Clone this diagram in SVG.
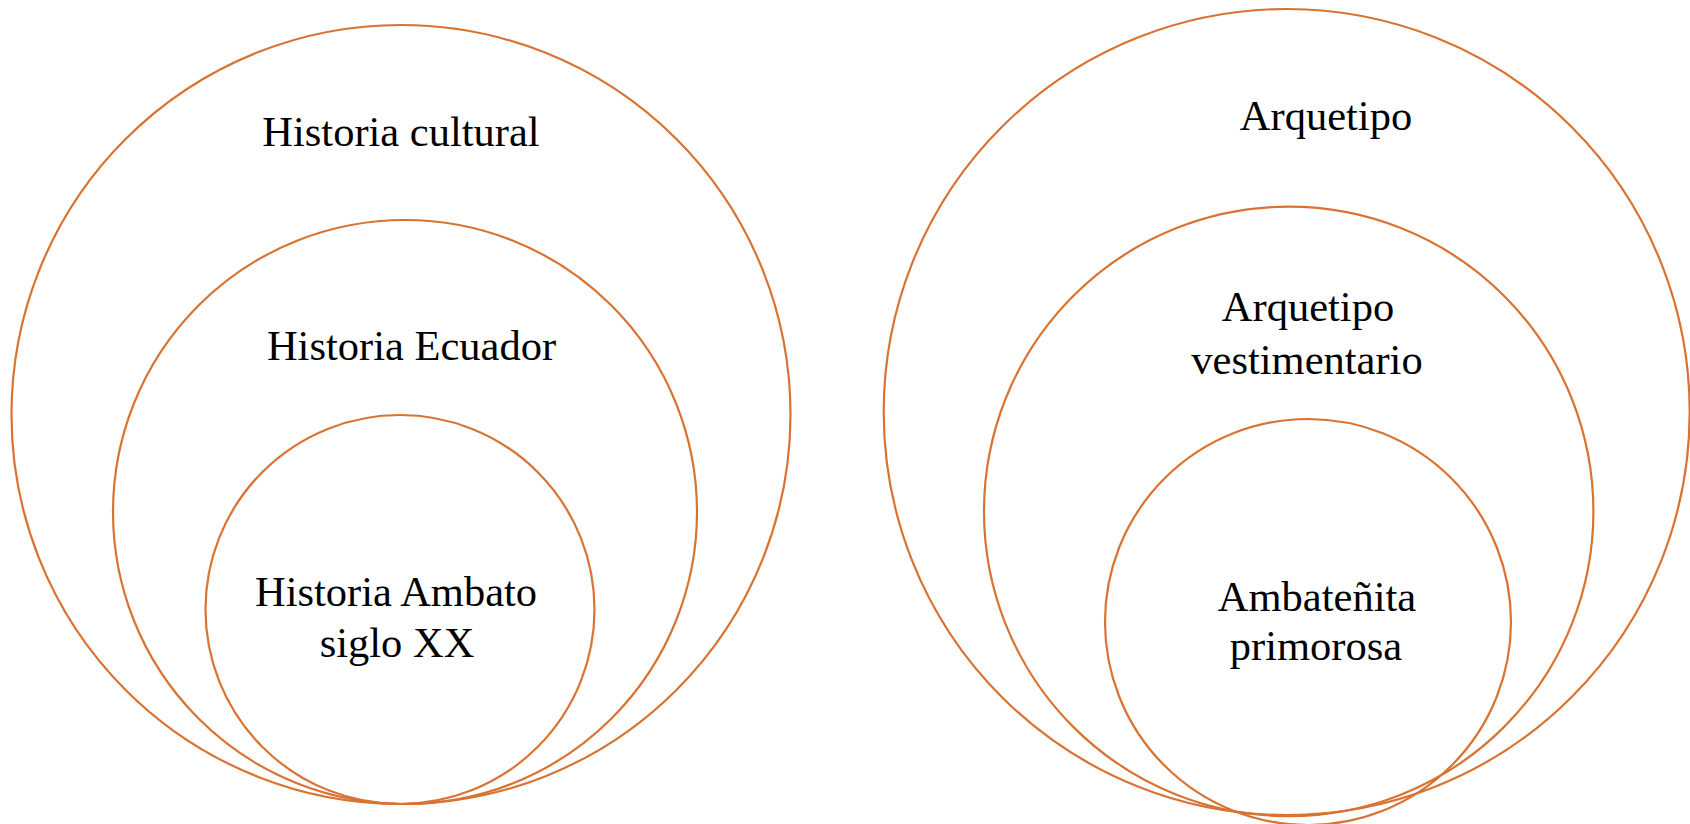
<svg xmlns="http://www.w3.org/2000/svg" width="1690" height="824" viewBox="0 0 1690 824">
<style>
.c{fill:none;stroke:#D97331;stroke-width:2.2}
.t{font-family:"Liberation Serif","Times New Roman",serif;font-size:42.5px;fill:#000;text-anchor:middle}
</style>
<rect width="1690" height="824" fill="#fff"/>
<g id="historia-cultural">
<circle class="c" cx="401" cy="414.5" r="389.5"/>
<text class="t" x="401" y="146">Historia cultural</text>
</g>
<g id="historia-ecuador">
<circle class="c" cx="405" cy="512" r="292"/>
<text class="t" x="411.5" y="360">Historia Ecuador</text>
</g>
<g id="historia-ambato">
<circle class="c" cx="400" cy="609.5" r="194.5"/>
<text class="t" x="396" y="606">Historia Ambato</text>
<text class="t" x="397" y="657">siglo XX</text>
</g>
<g id="arquetipo">
<circle class="c" cx="1286.7" cy="412" r="403"/>
<text class="t" x="1326" y="130">Arquetipo</text>
</g>
<g id="arquetipo-vestimentario">
<circle class="c" cx="1288.7" cy="511.4" r="304.7"/>
<text class="t" x="1308" y="321">Arquetipo</text>
<text class="t" x="1307" y="374">vestimentario</text>
</g>
<g id="ambatenita-primorosa">
<circle class="c" cx="1308" cy="622" r="203"/>
<text class="t" x="1317" y="611">Ambateñita</text>
<text class="t" x="1316" y="660">primorosa</text>
</g>
<g id="connectors"></g>
</svg>
